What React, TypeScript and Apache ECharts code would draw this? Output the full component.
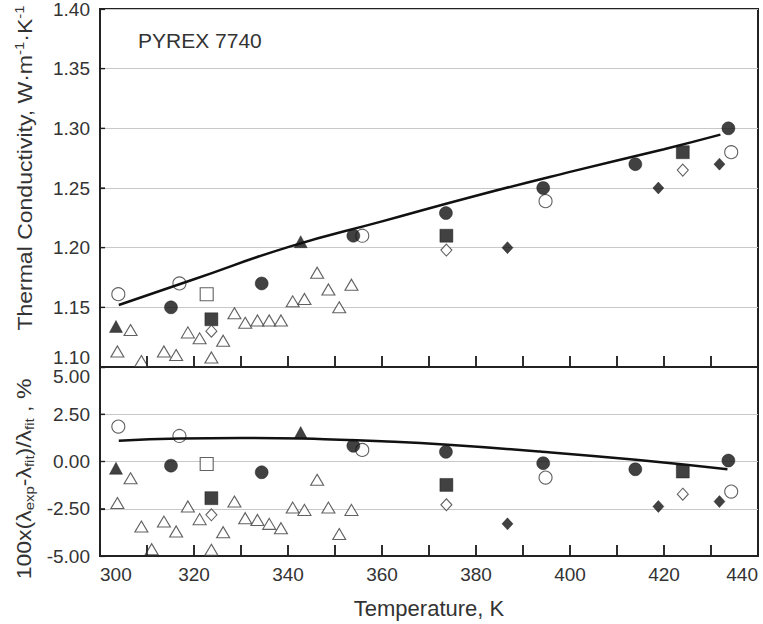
import React, { useEffect, useRef } from "react";
import * as echarts from "echarts";

// ---- data ----
// open circles
const ocT = [303.9, 316.9, 355.8, 394.8, 434.3];
const ocK = [1.161, 1.170, 1.210, 1.239, 1.280];
const ocD = [1.85, 1.35, 0.61, -0.85, -1.59];
// filled circles
const fcT = [315.1, 334.4, 353.9, 373.6, 394.3, 413.9, 433.7];
const fcK = [1.150, 1.170, 1.210, 1.229, 1.250, 1.270, 1.300];
const fcD = [-0.22, -0.57, 0.83, 0.51, -0.09, -0.41, 0.05];
// filled triangles
const ftT = [303.4, 342.7];
const ftK = [1.134, 1.205];
const ftD = [-0.36, 1.53];
// open square
const osT = [322.7];
const osK = [1.161];
const osD = [-0.13];
// filled squares
const fsT = [323.7, 373.7, 424.0];
const fsK = [1.140, 1.210, 1.280];
const fsD = [-1.94, -1.24, -0.53];
// open diamonds
const odT = [323.7, 373.7, 424.0];
const odK = [1.130, 1.198, 1.265];
const odD = [-2.82, -2.29, -1.73];
// filled diamonds
const fdT = [386.7, 418.8, 431.8];
const fdK = [1.200, 1.250, 1.270];
const fdD = [-3.30, -2.38, -2.12];
// open triangles
const otT = [303.7, 306.5, 308.8, 311.0, 313.6, 316.2, 318.7, 321.2, 323.7, 326.2, 328.6, 330.9, 333.5, 336.0, 338.5, 341.0, 343.5, 346.2, 348.6, 350.9, 353.5];
const otK = [1.113, 1.131, 1.105, 1.095, 1.113, 1.110, 1.129, 1.124, 1.108, 1.122, 1.145, 1.137, 1.139, 1.139, 1.139, 1.155, 1.157, 1.179, 1.165, 1.150, 1.169];
const otD = [-2.20, -0.89, -3.44, -4.64, -3.18, -3.70, -2.38, -3.05, -4.67, -3.74, -2.12, -3.00, -3.09, -3.30, -3.53, -2.44, -2.56, -0.97, -2.44, -3.84, -2.56];
// fit curves
const fitT = [304, 320, 340, 360, 380, 400, 420, 432];
const fitK = [1.152, 1.1735, 1.2005, 1.222, 1.2435, 1.2635, 1.2825, 1.2947];
const devFitT = [304, 317, 330, 343, 351, 360, 374, 394, 414, 433.5];
const devFitD = [1.10, 1.22, 1.25, 1.22, 1.15, 1.07, 0.88, 0.52, 0.09, -0.41];
// axis ticks
const xTicks = [310, 320, 330, 340, 350, 360, 370, 380, 390, 400, 410, 420, 430];
const yTicksTop = [1.15, 1.2, 1.25, 1.3, 1.35];
const yTicksBottom = [-2.5, 0, 2.5];

const FONT = "Liberation Sans";
const TXT = "#333";
const DARK = "#111";
const FRAME = "#222";

const zip = (a: number[], b: number[]) => a.map((x, i) => [x, b[i]]);

type Mk = { T: number[]; K: number[]; D: number[]; symbol: string; size: number | number[]; filled: boolean };
const markers: Mk[] = [
  { T: otT, K: otK, D: otD, symbol: "triangle", size: [13, 11], filled: false },
  { T: ocT, K: ocK, D: ocD, symbol: "circle", size: 13, filled: false },
  { T: fcT, K: fcK, D: fcD, symbol: "circle", size: 13, filled: true },
  { T: ftT, K: ftK, D: ftD, symbol: "triangle", size: [13, 12], filled: true },
  { T: osT, K: osK, D: osD, symbol: "rect", size: 13, filled: false },
  { T: fsT, K: fsK, D: fsD, symbol: "rect", size: 13, filled: true },
  { T: odT, K: odK, D: odD, symbol: "diamond", size: [11, 12], filled: false },
  { T: fdT, K: fdK, D: fdD, symbol: "diamond", size: [11, 12], filled: true },
];

export default function App() {
  const ref = useRef<HTMLDivElement>(null);
  useEffect(() => {
    const chart = echarts.init(ref.current!, undefined, { renderer: "svg" });
    const scatter = (m: Mk, top: boolean) => ({
      type: "scatter",
      xAxisIndex: top ? 0 : 1,
      yAxisIndex: top ? 0 : 1,
      symbol: m.symbol,
      symbolSize: m.size,
      data: zip(m.T, top ? m.K : m.D),
      itemStyle: m.filled
        ? { color: DARK, borderColor: DARK, borderWidth: 0.5 }
        : { color: "#fff", borderColor: "#3a3a3a", borderWidth: 1.1 },
    });
    const xBase = (idx: number, labels: boolean) => ({
      type: "value",
      gridIndex: idx,
      min: 300,
      max: 440,
      interval: 10,
      axisLine: { show: true, onZero: false, lineStyle: { color: FRAME, width: 2 } },
      axisTick: { show: true, inside: true, length: 11, lineStyle: { color: FRAME, width: 1.5 } },
      splitLine: { show: false },
      axisLabel: {
        show: labels,
        margin: 9,
        fontSize: 19,
        fontFamily: FONT,
        color: TXT,
        alignMinLabel: "left",
        alignMaxLabel: "right",
        formatter: (v: number) => (Math.round(v) % 20 === 0 ? String(Math.round(v)) : ""),
      },
    });
    const yBase = {
      type: "value",
      axisLine: { show: true, onZero: false, lineStyle: { color: FRAME, width: 2 } },
      axisTick: { show: true, inside: true, length: 5, lineStyle: { color: FRAME, width: 1.2 } },
      splitLine: { show: true, lineStyle: { color: "#c8c8c8", width: 1 } },
    };
    const gridBase = {
      left: 100,
      width: 658,
      show: true,
      borderColor: FRAME,
      borderWidth: 2,
      outerBoundsMode: "none",
    };
    const titleTexts = [
      {
        type: "text",
        x: 25,
        y: 168,
        rotation: Math.PI / 2,
        scaleX: 1.15,
        style: {
          text: "Thermal Conductivity, W·m{sup|-1}·K{sup|-1}",
          fontSize: 20,
          fontFamily: FONT,
          fill: TXT,
          lineHeight: 24,
          align: "center",
          verticalAlign: "middle",
          rich: { sup: { fontSize: 13, fontFamily: FONT, fill: TXT, verticalAlign: "top" } },
        },
      },
      {
        type: "text",
        x: 24,
        y: 479,
        rotation: Math.PI / 2,
        scaleX: 1.15,
        style: {
          text: "100x(λ{sub|exp}-λ{sub|fit})/λ{sub|fit} , %",
          fontSize: 20,
          fontFamily: FONT,
          fill: TXT,
          lineHeight: 24,
          align: "center",
          verticalAlign: "middle",
          rich: { sub: { fontSize: 13, fontFamily: FONT, fill: TXT, verticalAlign: "bottom" } },
        },
      },
    ];
    const option: any = {
      animation: false,
      title: {
        text: "PYREX 7740",
        left: 138,
        top: 30,
        padding: 0,
        textStyle: { fontSize: 21, fontWeight: "normal", fontFamily: FONT, color: TXT },
      },
      grid: [
        { ...gridBase, top: 9, height: 358 },
        { ...gridBase, top: 367, height: 189 },
      ],
      xAxis: [
        xBase(0, false),
        { ...xBase(1, true), name: "Temperature, K", nameLocation: "middle", nameGap: 41, nameTextStyle: { fontSize: 22, fontFamily: FONT, color: TXT } },
      ],
      yAxis: [
        {
          ...yBase,
          gridIndex: 0,
          min: 1.1,
          max: 1.4,
          interval: 0.05,
          axisLabel: {
            margin: 10,
            fontSize: 19,
            fontFamily: FONT,
            color: TXT,
            verticalAlignMinLabel: "bottom",
            formatter: (v: number) => v.toFixed(2),
          },
        },
        {
          ...yBase,
          gridIndex: 1,
          min: -5,
          max: 5,
          interval: 2.5,
          axisLabel: {
            margin: 10,
            fontSize: 19,
            fontFamily: FONT,
            color: TXT,
            verticalAlignMaxLabel: "top",
            formatter: (v: number) => v.toFixed(2),
          },
        },
      ],
      graphic: titleTexts,
      series: [
        {
          type: "line",
          xAxisIndex: 0,
          yAxisIndex: 0,
          data: zip(fitT, fitK),
          smooth: true,
          showSymbol: false,
          lineStyle: { color: DARK, width: 2.5 },
        },
        {
          type: "line",
          xAxisIndex: 1,
          yAxisIndex: 1,
          data: zip(devFitT, devFitD),
          smooth: true,
          showSymbol: false,
          lineStyle: { color: DARK, width: 2.5 },
        },
        ...markers.map((m) => scatter(m, true)),
        ...markers.map((m) => scatter(m, false)),
      ],
    };
    chart.setOption(option);

    // tick marks placed through the axes' own scales (convertToPixel)
    const tickEls: any[] = [];
    const addX = (gi: number, yv: number) => {
      xTicks.forEach((v) => {
        const p = chart.convertToPixel({ gridIndex: gi } as any, [v, yv]) as number[];
        if (!p) return;
        tickEls.push({
          type: "line",
          z: 100,
          silent: true,
          shape: { x1: p[0], y1: p[1], x2: p[0], y2: p[1] - 11 },
          style: { stroke: FRAME, lineWidth: 1.5 },
        });
      });
    };
    const addY = (gi: number, vals: number[]) => {
      vals.forEach((v) => {
        const p = chart.convertToPixel({ gridIndex: gi } as any, [300, v]) as number[];
        if (!p) return;
        tickEls.push({
          type: "line",
          z: 100,
          silent: true,
          shape: { x1: p[0], y1: p[1], x2: p[0] + 5, y2: p[1] },
          style: { stroke: FRAME, lineWidth: 1.2 },
        });
      });
    };
    addX(0, 1.1);
    addX(1, -5);
    addY(0, yTicksTop);
    addY(1, yTicksBottom);
    chart.setOption({ graphic: [...titleTexts, ...tickEls] });

    return () => chart.dispose();
  }, []);
  return (
    <div
      ref={ref}
      style={{ position: "fixed", left: 0, top: 0, width: 763, height: 624, background: "#fff" }}
    />
  );
}
